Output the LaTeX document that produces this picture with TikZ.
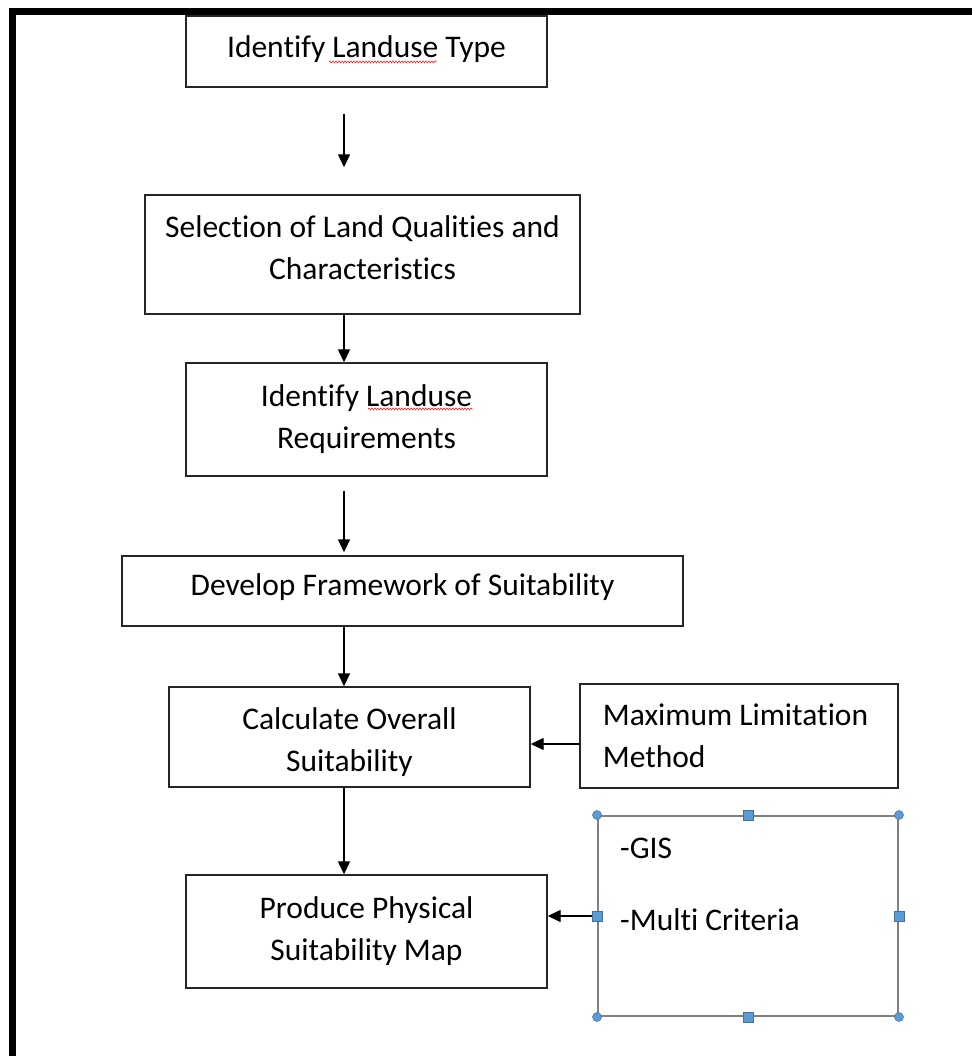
\documentclass[tikz,border=0pt]{standalone}
\usepackage{fontspec}
\setmainfont{Carlito}[Ligatures={NoCommon,NoContextual}]
\usetikzlibrary{arrows.meta,decorations.pathmorphing}
\definecolor{handlefill}{HTML}{5B9BD5}
\definecolor{handleline}{HTML}{41719C}
\definecolor{boxline}{HTML}{262626}
\definecolor{gisline}{HTML}{808080}
\newcommand\liftline[2]{\raisebox{#1}[\height][\depth]{#2}}
\begin{document}
\begin{tikzpicture}[x=1pt,y=-1pt,
  box/.style={draw=boxline, line width=1.4pt, rectangle, inner sep=0pt, align=center,
    font=\fontsize{31.5}{42}\selectfont},
  arr/.style={line width=1.4pt, -{Triangle[length=13pt,width=12pt]}},
  squig/.style={draw=red, line width=0.5pt, decorate,
    decoration={snake, amplitude=1pt, segment length=3pt}},
  sqhandle/.style={draw=handleline, fill=handlefill, line width=0.5pt, rectangle,
    minimum size=10pt, inner sep=0pt},
  cihandle/.style={draw=handleline, fill=handlefill, line width=0.5pt, circle,
    minimum size=9pt, inner sep=0pt}]
\useasboundingbox (0,0) rectangle (971,1056);
\fill[white] (0,0) rectangle (971,1056);
% frame
\draw[line width=7pt, line join=miter] (12.5,1070) -- (12.5,11.5) -- (985,11.5);

% boxes
\node[box, minimum width=361pt, minimum height=71pt] (b1) at (366.5,51.5) {\liftline{2pt}{Identify Landuse Type}};
\node[box, minimum width=435pt, minimum height=119pt] (b2) at (362.5,254.5) {\liftline{7pt}{Selection of Land Qualities and}\\\liftline{7pt}{Characteristics}};
\node[box, minimum width=361pt, minimum height=113pt] (b3) at (366.5,419.5) {Identify Landuse\\Requirements};
\node[box, minimum width=561pt, minimum height=70pt] (b4) at (402.5,591) {\liftline{4pt}{Develop Framework of Suitability}};
\node[box, minimum width=361pt, minimum height=100pt] (b5) at (349.5,737) {\liftline{-5pt}{Calculate Overall}\\\liftline{-5pt}{Suitability}};
\node[box, align=left, minimum width=318pt, minimum height=104pt] (b6) at (739,736) {\hspace*{-7pt}Maximum Limitation\\\hspace*{-7pt}Method};
\node[box, minimum width=361pt, minimum height=113pt] (b7) at (366.5,931.5) {Produce Physical\\Suitability Map};
\node[draw=gisline, line width=2pt, rectangle, minimum width=300pt, minimum height=200pt, inner sep=0pt] (gis) at (748,916) {};
\node[anchor=north west, inner sep=0pt, align=left, font=\fontsize{31.5}{72}\selectfont] (gistext) at (620,838) {-GIS\\-Multi Criteria};

% handles
\foreach \a in {north,south,east,west}
  \node[sqhandle] (h\a) at (gis.\a) {};
\foreach \a/\n in {north west/hnw,north east/hne,south west/hsw,south east/hse}
  \node[cihandle] (\n) at (gis.\a) {};

% spell-check squiggles
\path[squig] (329,62) -- (437,62);
\path[squig] (368,409) -- (473,409);

% connectors
\coordinate (ax) at (344,0);
\coordinate (ay) at (0,744);
\draw[arr, shorten <=26pt, shorten >=27pt] (b1.south -| ax) -- (b2.north -| ax);
\draw[arr] (b2.south -| ax) -- (b3.north -| ax);
\draw[arr, shorten <=14pt, shorten >=3pt] (b3.south -| ax) -- (b4.north -| ax);
\draw[arr] (b4.south -| ax) -- (b5.north -| ax);
\draw[arr] (b5.south -| ax) -- (b7.north -| ax);
\draw[arr] (b6.west |- ay) -- (b5.east |- ay);
\draw[arr] (hwest.west) -- (b7.east |- gis.west);
\end{tikzpicture}
\end{document}
